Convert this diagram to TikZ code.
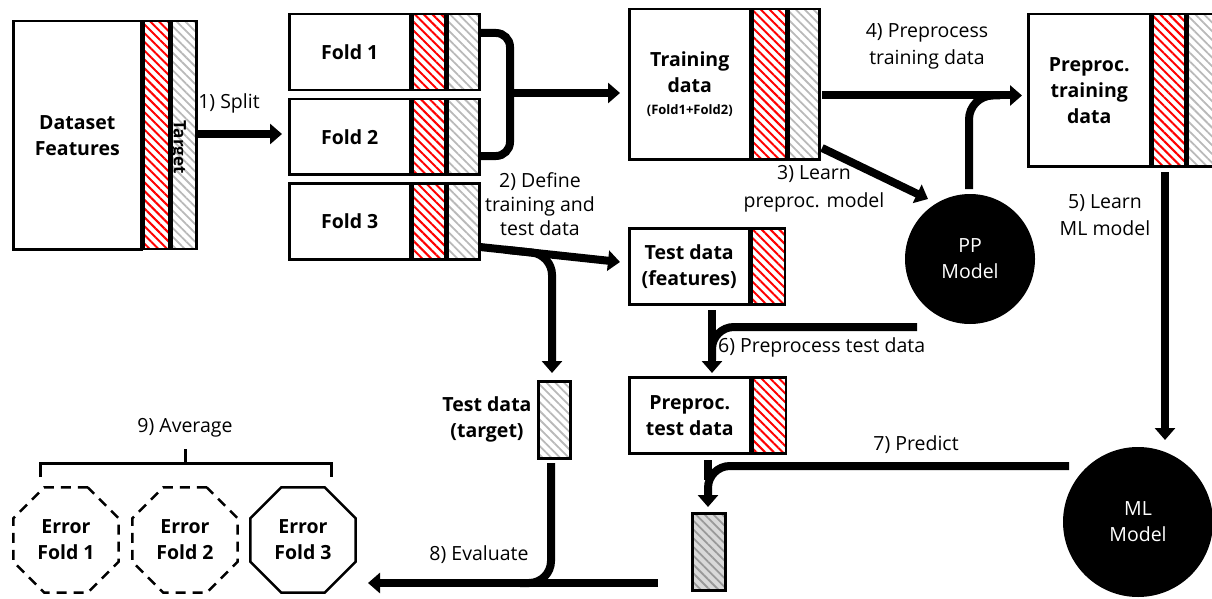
\documentclass[tikz,border=0pt]{standalone}
\usepackage{fontspec}
\setmainfont{Open Sans}
\usetikzlibrary{arrows.meta,patterns.meta,shapes.geometric}
\tikzset{
  lbl/.style={font=\fontsize{19.5}{26}\selectfont, align=center, inner sep=0pt},
  blbl/.style={font=\bfseries\fontsize{19.5}{26}\selectfont, align=center, inner sep=0pt},
  wbox/.style={draw, line width=2.5pt, fill=white, inner sep=0pt, anchor=north west, blbl},
  rstrip/.style={draw, line width=2.5pt, inner sep=0pt, anchor=north west,
    pattern={Lines[angle=-45,distance=6.2pt,line width=2pt]}, pattern color=red},
  gstrip/.style={draw, line width=2.5pt, inner sep=0pt, anchor=north west,
    pattern={Lines[angle=-45,distance=6.2pt,line width=1.8pt]}, pattern color=gray!55},
  conn/.style={line width=8pt},
  arr/.style={conn, -{Triangle[width=20pt,length=12pt]}},
  octo/.style={regular polygon, regular polygon sides=8, minimum size=114pt, draw,
    line width=2.5pt, inner sep=0pt, blbl},
  dsh/.style={dash pattern=on 10pt off 7pt},
  brk/.style={line width=3pt},
}
\begin{document}
\begin{tikzpicture}[x=1pt,y=-1pt]
\useasboundingbox (0,0) rectangle (1212,599);

% Dataset
\node[wbox, minimum width=128pt, minimum height=228pt] (ds) at (12,20) {Dataset\\Features};
\node[rstrip, minimum width=26pt, minimum height=228pt] (dsr) at (ds.north east) {};
\node[gstrip, minimum width=25pt, minimum height=228pt] (dsg) at (dsr.north east) {};
\node[blbl, rotate=-90, font=\bfseries\fontsize{17}{20}\selectfont] (tgt) at (178,147) {Target};

% Folds
\node[wbox, minimum width=121pt, minimum height=76pt] (f1) at (288,13) {Fold 1};
\node[rstrip, minimum width=32pt, minimum height=76pt] (f1r) at (f1.north east) {};
\node[gstrip, minimum width=32pt, minimum height=76pt] (f1g) at (f1r.north east) {};
\node[wbox, minimum width=121pt, minimum height=75pt] (f2) at (288,98) {Fold 2};
\node[rstrip, minimum width=32pt, minimum height=75pt] (f2r) at (f2.north east) {};
\node[gstrip, minimum width=32pt, minimum height=75pt] (f2g) at (f2r.north east) {};
\node[wbox, minimum width=121pt, minimum height=76pt] (f3) at (288,182) {Fold 3};
\node[rstrip, minimum width=32pt, minimum height=76pt] (f3r) at (f3.north east) {};
\node[gstrip, minimum width=32pt, minimum height=76pt] (f3g) at (f3r.north east) {};

% Training data
\node[wbox, minimum width=121pt, minimum height=150pt] (tr) at (628,8)
  {Training\\data\\[-4pt]{\bfseries\fontsize{13}{16}\selectfont (Fold1+Fold2)}};
\node[rstrip, minimum width=33pt, minimum height=150pt] (trr) at (tr.north east) {};
\node[gstrip, minimum width=31pt, minimum height=150pt] (trg) at (trr.north east) {};

% Preproc training data
\node[wbox, minimum width=122pt, minimum height=152pt] (ptr) at (1027,13) {Preproc.\\training\\data};
\node[rstrip, minimum width=32pt, minimum height=152pt] (ptrr) at (ptr.north east) {};
\node[gstrip, minimum width=29pt, minimum height=152pt] (ptrg) at (ptrr.north east) {};

% Test data (features)
\node[wbox, minimum width=120pt, minimum height=76pt] (tf) at (628,227) {Test data\\(features)};
\node[rstrip, minimum width=33pt, minimum height=76pt] (tfr) at (tf.north east) {};

% Preproc test data
\node[wbox, minimum width=121pt, minimum height=76pt] (pt) at (628,376) {Preproc.\\test data};
\node[rstrip, minimum width=33pt, minimum height=76pt] (ptr2) at (pt.north east) {};

% Test data (target)
\node[gstrip, minimum width=32pt, minimum height=77pt] (tt) at (537,380) {};
\node[blbl] (ttl) at (487,419) {Test data\\(target)};

% Prediction
\node[gstrip, preaction={fill=gray!30}, pattern color=gray!80, minimum width=33pt, minimum height=77pt] (pr) at (691,512) {};

% Models
\node[circle, fill=black, minimum size=130pt, inner sep=0pt, lbl, text=white] (pp) at (970,259) {PP\\Model};
\node[circle, fill=black, minimum size=150pt, inner sep=0pt, lbl, text=white] (ml) at (1138,522) {ML\\Model};

% Errors
\node[octo, dsh] (e1) at (66,540) {Error\\Fold 1};
\node[octo, dsh] (e2) at (185,540) {Error\\Fold 2};
\node[octo] (e3) at (303,540) {Error\\Fold 3};

% Connectors
\draw[arr] (198,134) -- (282,134);
\draw[conn, rounded corners=14pt] (480,33) -- (510,33) -- (510,156) -- (480,156);
\draw[arr] (510,93) -- (620,93);
\draw[conn, rounded corners=24pt] (969,189) -- (969,95.5) -- (1000,95.5);
\draw[arr] (822,95.5) -- (1022,95.5);
\draw[arr] (822,148) -- (928,199);
\draw[arr] (1165,172) -- (1165,440);
\draw[arr] (480,247) -- (620,262);
\draw[arr, rounded corners=20pt] (505,249.7) -- (552,254.7) -- (552,373);
\draw[arr] (712,310) -- (712,373);
\draw[conn, rounded corners=22pt] (917,327) -- (712,327) -- (712,360);
\draw[conn] (708,460) -- (708,480);
\draw[arr, rounded corners=22pt] (1069,466) -- (708,466) -- (708,507);
\draw[arr] (658,583) -- (368,583);
\draw[conn, rounded corners=22pt] (551,463) -- (551,583) -- (520,583);

% Average bracket
\coordinate (bl) at (40,477);
\coordinate (br) at (331,477);
\draw[brk] (bl) -- (40,463) -- (331,463) -- (br);
\draw[brk] (185,463) -- (185,449);

% Labels
\node[lbl] (l1) at (229,103) {1) Split};
\node[lbl, font=\fontsize{19.5}{24}\selectfont] (l2) at (540,204) {2) Define\\training and\\test data};
\node[lbl, font=\fontsize{19.5}{28}\selectfont] (l3) at (814,189) {3) Learn\\preproc. model};
\node[lbl, font=\fontsize{19.5}{27}\selectfont] (l4) at (927,46) {4) Preprocess\\training data};
\node[lbl, font=\fontsize{19.5}{27}\selectfont] (l5) at (1105,215) {5) Learn\\ML model};
\node[lbl, anchor=west] (l6) at (718,347) {6) Preprocess test data};
\node[lbl] (l7) at (916,445) {7) Predict};
\node[lbl] (l8) at (479,555) {8) Evaluate};
\node[lbl] (l9) at (185,428) {9) Average};
\end{tikzpicture}
\end{document}
